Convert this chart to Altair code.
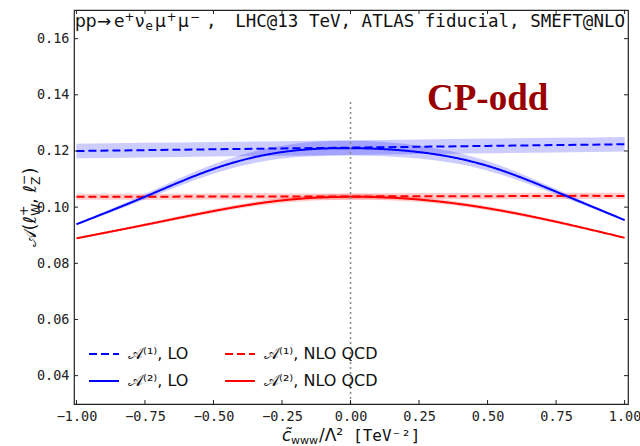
import altair as alt
import pandas as pd

# Wilson coefficient grid (TeV^-2)
c_www = [-1.0, -0.75, -0.5, -0.25, 0.0, 0.25, 0.5, 0.75, 1.0]

# Asymmetries and their scale-uncertainty half-widths
a1_lo = [0.1200, 0.1203, 0.1206, 0.1209, 0.1212, 0.1215, 0.1218, 0.1221, 0.1224]
a1_lo_unc = [0.0026, 0.0026, 0.0026, 0.0026, 0.0026, 0.0026, 0.0026, 0.0026, 0.0026]
a2_lo = [0.0939, 0.1037, 0.1136, 0.1196, 0.1210, 0.1196, 0.1147, 0.1055, 0.0954]
a2_lo_unc = [0.0003, 0.0010, 0.0017, 0.0023, 0.0026, 0.0023, 0.0017, 0.0010, 0.0003]
a1_nlo = [0.1037, 0.1037, 0.1038, 0.1038, 0.1038, 0.1039, 0.1039, 0.1040, 0.1040]
a1_nlo_unc = [0.0011, 0.0011, 0.0011, 0.0011, 0.0011, 0.0011, 0.0011, 0.0011, 0.0011]
a2_nlo = [0.0889, 0.0937, 0.0986, 0.1024, 0.1037, 0.1027, 0.0996, 0.0948, 0.0891]
a2_nlo_unc = [0.0003, 0.0005, 0.0007, 0.0009, 0.0011, 0.0009, 0.0007, 0.0005, 0.0003]

# legend order: LO column first, NLO QCD column second
series_names = ["𝒜⁽¹⁾, LO", "𝒜⁽²⁾, LO", "𝒜⁽¹⁾, NLO QCD", "𝒜⁽²⁾, NLO QCD"]
series_colors = ["#0000ff", "#0000ff", "#ff0000", "#ff0000"]
series_dash = [[8, 4], [1, 0], [8, 4], [1, 0]]

x_ticks = [-1.0, -0.75, -0.5, -0.25, 0.0, 0.25, 0.5, 0.75, 1.0]
y_ticks = [0.04, 0.06, 0.08, 0.10, 0.12, 0.14, 0.16]

X_DOMAIN = [-1.0089, 1.0124]
Y_DOMAIN = [0.0299, 0.1702]
W, H = 554, 394

rows = []
for name, vals, unc in [
    ("𝒜⁽¹⁾, LO", a1_lo, a1_lo_unc),
    ("𝒜⁽¹⁾, NLO QCD", a1_nlo, a1_nlo_unc),
    ("𝒜⁽²⁾, LO", a2_lo, a2_lo_unc),
    ("𝒜⁽²⁾, NLO QCD", a2_nlo, a2_nlo_unc),
]:
    for c, v, u in zip(c_www, vals, unc):
        rows.append({"series": name, "c": c, "A": v, "lo": v - u, "hi": v + u})
df = pd.DataFrame(rows)

xs = alt.Scale(domain=X_DOMAIN, nice=False, zero=False)
ys = alt.Scale(domain=Y_DOMAIN, nice=False, zero=False)

x_axis = alt.Axis(values=x_ticks, format=".2f", labelExpr="replace(datum.label, '-', '\u2212')",
                  title=None, labelPadding=5)
y_axis = alt.Axis(values=y_ticks, format=".2f", title=None, labelPadding=5)

bands = alt.Chart(df).mark_area(opacity=0.2, interpolate="natural").encode(
    x=alt.X("c:Q", scale=xs, axis=x_axis),
    y=alt.Y("lo:Q", scale=ys, axis=y_axis),
    y2="hi:Q",
    fill=alt.Fill("series:N", scale=alt.Scale(domain=series_names, range=series_colors), legend=None),
    detail="series:N",
)

lines = alt.Chart(df).mark_line(strokeWidth=2, interpolate="natural").encode(
    x=alt.X("c:Q", scale=xs),
    y=alt.Y("A:Q", scale=ys),
    color=alt.Color("series:N", scale=alt.Scale(domain=series_names, range=series_colors),
                    legend=alt.Legend(title=None)),
    strokeDash=alt.StrokeDash("series:N", scale=alt.Scale(domain=series_names, range=series_dash),
                              legend=alt.Legend(title=None)),
)

# dotted marker at the SM point
sm_line = alt.Chart(pd.DataFrame({"c": [0.0], "y0": [Y_DOMAIN[0]], "y1": [0.138]})).mark_rule(
    color="#888888", strokeDash=[2, 3], strokeWidth=1.5
).encode(x=alt.X("c:Q", scale=xs), y=alt.Y("y0:Q", scale=ys), y2="y1:Q")

# inward ticks on all four sides
xt = pd.DataFrame({"c": x_ticks})
yt = pd.DataFrame({"v": y_ticks})
tick_style = dict(color="#222222", strokeWidth=1)
ticks = alt.layer(
    alt.Chart(xt).mark_rule(**tick_style).encode(x=alt.X("c:Q", scale=xs), y=alt.value(H), y2=alt.value(H - 4)),
    alt.Chart(xt).mark_rule(**tick_style).encode(x=alt.X("c:Q", scale=xs), y=alt.value(0), y2=alt.value(4)),
    alt.Chart(yt).mark_rule(**tick_style).encode(y=alt.Y("v:Q", scale=ys), x=alt.value(0), x2=alt.value(4)),
    alt.Chart(yt).mark_rule(**tick_style).encode(y=alt.Y("v:Q", scale=ys), x=alt.value(W), x2=alt.value(W - 4)),
)

def label(text, x, y, size=17, font="DejaVu Sans", align="left", baseline="alphabetic",
          angle=0, style="normal", weight="normal", color="#111111"):
    return alt.Chart(pd.DataFrame({"t": [text]})).mark_text(
        align=align, baseline=baseline, fontSize=size, font=font, angle=angle,
        fontStyle=style, fontWeight=weight, color=color,
    ).encode(text="t:N", x=alt.value(x), y=alt.value(y))

# process label: pp -> e+ nu_e mu+ mu-, set with raised / lowered scripts
tb = 17
process = alt.layer(
    label("pp", 1, tb),
    label("→", 23, tb),
    label("e", 40, tb),
    label("+", 50.5, tb - 6, size=12),
    label("ν", 61, tb),
    label("e", 71.5, tb + 3, size=12),
    label("μ", 81, tb),
    label("+", 92.5, tb - 6, size=12),
    label("μ", 104, tb),
    label("−", 116, tb - 6, size=12),
    label(",", 132, tb, size=17.5, font="DejaVu Sans Mono"),
)
setup = label("LHC@13\u2009TeV, ATLAS fiducial, SMEFT@NLO", W - 3, tb, size=17.5,
              font="DejaVu Sans Mono", align="right")

cp_odd = alt.Chart(pd.DataFrame({"c": [0.279], "v": [0.1346], "t": ["CP-odd"]})).mark_text(
    align="left", baseline="alphabetic", font="Liberation Serif", fontSize=37,
    fontWeight="bold", color="#990000",
).encode(x=alt.X("c:Q", scale=xs), y=alt.Y("v:Q", scale=ys), text="t:N")

# x-axis title pieces
xt_parts = alt.layer(
    label("c\u0303", 208, 431, style="italic"),
    label("www", 217, 433.5, size=11),
    label("/Λ²", 245, 431),
    label("[TeV⁻²]", 279, 431, size=16, font="DejaVu Sans Mono"),
)

# y-axis title pieces (rotated, reading upwards)
yb = -38
p1 = 206   # end of "𝒜(ℓ", start of first scripts
q1 = p1 - 12.5 - 18.5   # end of ", ℓ", start of second scripts
yt_parts = alt.layer(
    label("𝒜(ℓ", yb, p1, size=18, angle=270, align="right"),
    label("+", yb - 8, p1, size=12.5, angle=270),
    label("W", yb + 4, p1, size=12.5, angle=270),
    label(", ℓ", yb, q1, size=18, angle=270, align="right"),
    label("−", yb - 8, q1, size=12.5, angle=270),
    label("Z", yb + 4, q1, size=12.5, angle=270),
    label(")", yb, q1 - 10.5, size=18, angle=270),
)

chart = alt.layer(bands, lines, sm_line, ticks, process, setup, cp_odd, xt_parts, yt_parts).resolve_scale(
    fill="independent"
).properties(
    width=W, height=H,
    autosize=alt.AutoSizeParams(type="none"),
    padding={"left": 74, "top": 10, "right": 12, "bottom": 42},
).configure_view(
    stroke="#222222", strokeWidth=1.2
).configure_axis(
    grid=False, domain=False, ticks=False, labelFont="DejaVu Sans Mono", labelFontSize=13.5,
    labelColor="#222222",
).configure_legend(
    orient="none", legendX=14, legendY=328, columns=2, symbolType="stroke", symbolSize=900,
    symbolStrokeWidth=2, labelFont="DejaVu Sans", labelFontSize=16, labelColor="#111111",
    columnPadding=32, rowPadding=3, labelOffset=8,
)

chart.save("out.html", embed_options={"renderer": "svg", "actions": False})
